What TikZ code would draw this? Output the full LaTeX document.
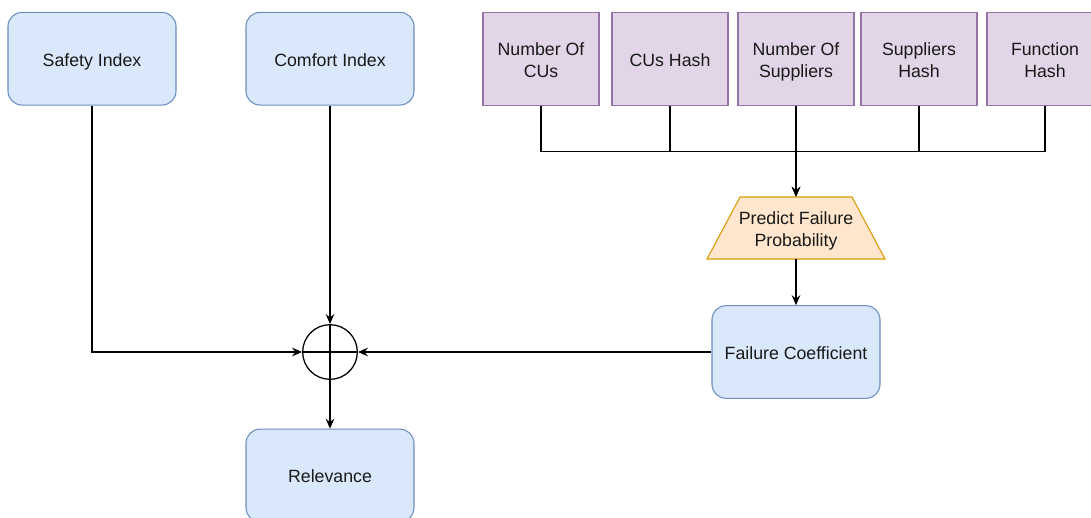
\documentclass[tikz,border=0pt]{standalone}
\usepackage{fontspec}
\setmainfont{Liberation Sans}
\usetikzlibrary{arrows.meta,shapes.geometric}
\definecolor{bluefill}{HTML}{DAE8FC}
\definecolor{bluedraw}{HTML}{6C8EBF}
\definecolor{purpfill}{HTML}{E1D5E7}
\definecolor{purpdraw}{HTML}{9673A6}
\definecolor{orfill}{HTML}{FFE6CC}
\definecolor{ordraw}{HTML}{D79B00}
\newcommand{\twoline}[2]{\raisebox{-2.4pt}[\height][\depth]{\begin{tabular}{@{}c@{}}#1\\#2\end{tabular}}}
\tikzset{
  lbl/.style={font=\fontsize{13.3}{16.4}\selectfont, align=center, text=black!90},
  oneline/.style={text height=11pt, text depth=0pt},
  bluebox/.style={lbl, oneline, draw=bluedraw, fill=bluefill, line width=0.8pt, rounded corners=10.5pt, minimum width=126pt, minimum height=69.5pt, inner sep=0pt},
  purpbox/.style={lbl, draw=purpdraw, fill=purpfill, line width=0.8pt, minimum width=87pt, minimum height=69.75pt, inner sep=0pt},
  conn/.style={line width=0.95pt, draw=black},
  arr/.style={conn, -{Stealth[length=7.5pt, width=6.5pt, inset=2.6pt]}},
}
\begin{document}
\begin{tikzpicture}[x=0.75pt, y=-0.75pt]
\useasboundingbox (0,0) rectangle (1091,517);
% blue boxes
\node[bluebox] (safety) at (92,58.7) {Safety Index};
\node[bluebox] (comfort) at (330,58.7) {Comfort Index};
\node[bluebox] (fc) at (796,352) {Failure Coefficient};
\node[bluebox] (rel) at (330,475.5) {Relevance};
% purple boxes
\node[purpbox] (ncu) at (541,58.7) {\twoline{Number Of}{CUs}};
\node[purpbox, oneline] (cuh) at (670,58.7) {CUs Hash};
\node[purpbox] (nsu) at (796,58.7) {\twoline{Number Of}{Suppliers}};
\node[purpbox] (suh) at (919,58.7) {\twoline{Suppliers}{Hash}};
\node[purpbox] (fnh) at (1045,58.7) {\twoline{Function}{Hash}};
% trapezoid
\node[minimum width=133.5pt, minimum height=46.5pt, inner sep=0pt] (pfp) at (796,228) {};
\fill[orfill, draw=ordraw, line width=0.8pt] (740,197) -- (852,197) -- (885,259) -- (707,259) -- cycle;
\node[lbl] (pfptext) at (pfp.center) {\twoline{Predict Failure}{Probability}};
% sum circle
\node[circle, draw, line width=0.95pt, minimum size=41pt, inner sep=0pt] (sum) at (330,352) {};
\draw[conn] (sum.north) -- (sum.south) (sum.west) -- (sum.east);
% junction
\coordinate (jn) at (796,151.5);
\foreach \n in {ncu,cuh,suh,fnh} {
  \draw[conn] (\n.south) |- (jn);
}
\draw[arr] (nsu.south) -- (pfp.north);
\draw[arr, line width=1.3pt] (jn) -- (pfp.north);
\draw[arr] (pfp.south) -- (fc.north);
% into sum
\draw[arr] (safety.south) |- (sum.west);
\draw[arr] (comfort.south) -- (sum.north);
\draw[arr] (fc.west) -- (sum.east);
\draw[arr] (sum.south) -- (rel.north);
\end{tikzpicture}
\end{document}
